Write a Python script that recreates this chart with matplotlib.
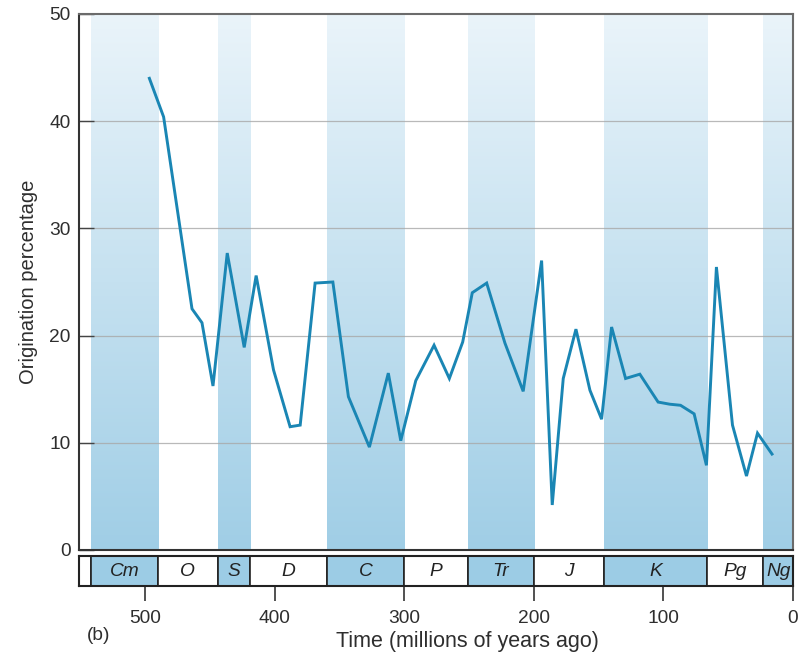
import numpy as np
import matplotlib

matplotlib.use("Agg")
import matplotlib.pyplot as plt

plt.rcParams["font.family"] = ["Liberation Sans", "DejaVu Sans"]

# geologic periods (start, end in Ma) and whether shaded
period_names = ["Cm", "O", "S", "D", "C", "P", "Tr", "J", "K", "Pg", "Ng"]
period_start = [542, 490, 444, 419, 360, 300, 251, 200, 146, 66, 23]
period_end = [490, 444, 419, 360, 300, 251, 200, 146, 66, 23, 0]
period_shaded = [True, False, True, False, True, False, True, False, True, False, True]

# origination percentage through time
time_ma = [496.7, 485.7, 463.8, 456.1, 447.6, 436.6, 423.5, 414.3, 400.9, 388.1,
           380.3, 368.8, 355.1, 343.1, 326.9, 312.3, 302.7, 291.1, 277.0, 265.2,
           254.9, 247.5, 236.4, 222.3, 208.2, 194.0, 185.8, 177.3, 167.5, 156.7,
           147.7, 140.0, 129.2, 118.2, 104.1, 95.1, 86.8, 76.3, 66.8, 59.1,
           46.7, 35.9, 27.4, 16.2]
orig_pct = [44.0, 40.4, 22.5, 21.2, 15.3, 27.7, 18.9, 25.6, 16.8, 11.5,
            11.65, 24.9, 25.0, 14.3, 9.6, 16.5, 10.2, 15.8, 19.1, 16.0,
            19.4, 24.0, 24.9, 19.3, 14.8, 27.0, 4.2, 16.0, 20.6, 14.9,
            12.2, 20.8, 16.0, 16.4, 13.8, 13.6, 13.5, 12.7, 7.9, 26.4,
            11.65, 6.9, 10.9, 8.95]

XMAX = 551
FS = 13.8
line_col = "#1a86b4"
txt_col = "#2e2e2e"
band_top = np.array([0xEA, 0xF4, 0xFA]) / 255
band_bot = np.array([0xA0, 0xCE, 0xE6]) / 255
bar_col = "#9ccce5"

fig = plt.figure(figsize=(8.02, 6.55), dpi=100)
ax = fig.add_axes([79 / 802, 105 / 655, 714 / 802, 536 / 655])
bar = fig.add_axes([79 / 802, 69 / 655, 714 / 802, 30 / 655])

# gradient bands
frac = np.linspace(0, 1, 256)[:, None, None]
grad = band_top * (1 - frac) + band_bot * frac
for s, e, sh in zip(period_start, period_end, period_shaded):
    if sh:
        ax.imshow(grad, extent=(s, e, 0, 50), origin="upper", aspect="auto", zorder=0,
                  interpolation="bilinear")

for v in [10, 20, 30, 40]:
    ax.axhline(v, color="#a8a8a8", lw=0.9, alpha=0.8, zorder=1)

ax.plot(time_ma, orig_pct, color=line_col, lw=2.1, zorder=3, solid_joinstyle="miter")

ax.set_xlim(XMAX, 0)
ax.set_ylim(0, 50)
ax.set_yticks([0, 10, 20, 30, 40, 50])
ax.tick_params(axis="y", direction="in", length=11, width=1, color="#444444",
               labelsize=FS, labelcolor=txt_col, pad=6)
ax.tick_params(axis="x", bottom=False, labelbottom=False)
ax.set_ylabel("Origination percentage", fontsize=14.5, color=txt_col, labelpad=8)
ax.spines["left"].set_color("#333333")
ax.spines["bottom"].set_color("#333333")
ax.spines["top"].set_color("#6b6b6b")
ax.spines["right"].set_color("#6b6b6b")
for sp in ax.spines.values():
    sp.set_linewidth(1.5)

# period bar
bar.set_xlim(XMAX, 0)
bar.set_ylim(0, 1)
bar.axvspan(XMAX, period_start[0], color="white", ec="#222222", lw=1.2)
for name, s, e, sh in zip(period_names, period_start, period_end, period_shaded):
    bar.axvspan(s, e, facecolor=bar_col if sh else "white", edgecolor="#222222", lw=1.2)
    bar.text((s + e) / 2, 0.5, name, ha="center", va="center", style="italic",
             fontsize=FS, color="#222222")
bar.set_yticks([])
bar.set_xticks([500, 400, 300, 200, 100, 0])
bar.tick_params(axis="x", direction="out", length=11, width=1.2, color="#333333",
                labelsize=FS, labelcolor=txt_col, pad=6)
for sp in bar.spines.values():
    sp.set_linewidth(1.5)
    sp.set_color("#222222")

fig.text(467 / 802, 13 / 655, "Time (millions of years ago)", ha="center",
         va="center", fontsize=15.5, color=txt_col)
fig.text(99 / 802, 19 / 655, "(b)", ha="center", va="center", fontsize=FS, color=txt_col)

fig.savefig("out.png", dpi=100)
